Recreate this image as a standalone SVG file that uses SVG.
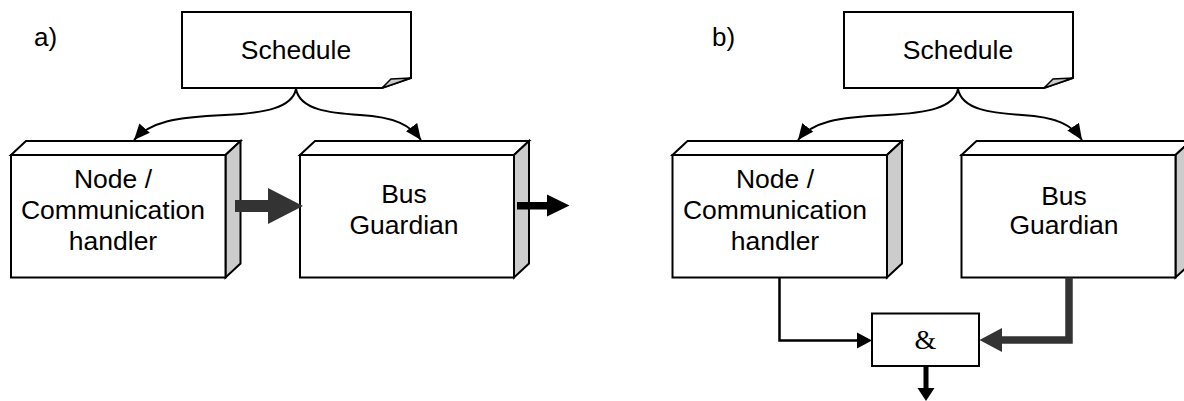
<svg xmlns="http://www.w3.org/2000/svg" width="1184" height="401" viewBox="0 0 1184 401">
  <style>
    .lbl { font-family: "Liberation Sans", Arial, sans-serif; font-size: 26.5px; fill: #000; text-anchor: middle; }
    .tag { font-family: "Liberation Sans", Arial, sans-serif; font-size: 26px; fill: #000; }
    .amp { font-family: "Liberation Serif", "Times New Roman", serif; font-size: 28px; fill: #000; text-anchor: middle; }
    .face { fill: #fff; stroke: #000; stroke-width: 2; stroke-linejoin: miter; }
    .side { fill: #cccccc; stroke: #000; stroke-width: 2; stroke-linejoin: miter; }
    .curl { fill: #cccccc; stroke: #000; stroke-width: 1.5; }
    .flow { fill: none; stroke: #000; stroke-width: 2; }
  </style>
  <defs>
    <marker id="tip" viewBox="0 0 16 14" refX="16" refY="7" markerWidth="16" markerHeight="14" markerUnits="userSpaceOnUse" orient="auto">
      <path d="M0,0 L16,7 L0,14 z" fill="#000"/>
    </marker>
  </defs>

  <!-- panel captions -->
  <text class="tag" x="34" y="46">a)</text>
  <text class="tag" x="712" y="46">b)</text>

  <!-- ===== panel a ===== -->
  <g id="schedule-a">
    <path class="face" d="M182,12 H411 V78 L382,88 H182 Z"/>
    <path class="curl" d="M382,88 L391,79 L411,78 Z"/>
    <text class="lbl" x="296" y="59">Schedule</text>
  </g>

  <g id="node-a">
    <path class="face" d="M11,155 L26,141 H240.5 L225.5,155 Z"/>
    <path class="side" d="M225.5,155 L240.5,141 V263.5 L225.5,277.5 Z"/>
    <rect class="face" x="11" y="155" width="214.5" height="122.5"/>
    <text class="lbl" x="113" y="188">Node /</text>
    <text class="lbl" x="113" y="219">Communication</text>
    <text class="lbl" x="113" y="250">handler</text>
  </g>

  <g id="guardian-a">
    <path class="face" d="M300,155 L315,141 H529 L514,155 Z"/>
    <path class="side" d="M514,155 L529,141 V263.5 L514,277.5 Z"/>
    <rect class="face" x="300" y="155" width="214" height="122.5"/>
    <text class="lbl" x="404" y="203">Bus</text>
    <text class="lbl" x="404" y="234">Guardian</text>
  </g>

  <!-- ===== panel b ===== -->
  <g id="schedule-b">
    <path class="face" d="M844,12 H1073 V78 L1044,88 H844 Z"/>
    <path class="curl" d="M1044,88 L1053,79 L1073,78 Z"/>
    <text class="lbl" x="958" y="59">Schedule</text>
  </g>

  <g id="node-b">
    <path class="face" d="M672.5,155 L687.5,141 H902 L887,155 Z"/>
    <path class="side" d="M887,155 L902,141 V263.5 L887,277.5 Z"/>
    <rect class="face" x="672.5" y="155" width="214.5" height="122.5"/>
    <text class="lbl" x="775" y="188">Node /</text>
    <text class="lbl" x="775" y="219">Communication</text>
    <text class="lbl" x="775" y="250">handler</text>
  </g>

  <g id="guardian-b">
    <path class="face" d="M961.5,155 L976.5,141 H1190.5 L1175.5,155 Z"/>
    <path class="side" d="M1175.5,155 L1190.5,141 V263.5 L1175.5,277.5 Z"/>
    <rect class="face" x="961.5" y="155" width="214" height="122.5"/>
    <text class="lbl" x="1064" y="205">Bus</text>
    <text class="lbl" x="1064" y="234">Guardian</text>
  </g>

  <g id="and-gate">
    <rect class="face" x="872" y="313.5" width="107" height="52.5"/>
    <text class="amp" x="925.5" y="349">&amp;</text>
  </g>

  <!-- ===== connectors ===== -->
  <g id="connectors">
    <!-- schedule distribution, panel a -->
    <path class="flow" d="M296,89 C292,108 265,113 225,115 C175,117 150,122 134,140" marker-end="url(#tip)"/>
    <path class="flow" d="M296,89 C300,110 330,113 360,115 C395,117 410,125 421,140" marker-end="url(#tip)"/>
    <!-- schedule distribution, panel b -->
    <path class="flow" d="M958,89 C954,108 927,113 887,115 C837,117 812,122 798,140" marker-end="url(#tip)"/>
    <path class="flow" d="M958,89 C962,110 992,113 1022,115 C1057,117 1072,125 1082,140" marker-end="url(#tip)"/>

    <!-- node to guardian (series), panel a -->
    <path d="M235,200 H268 V188 L303,206 L268,224 V212 H235 Z" fill="#333333"/>
    <!-- guardian output, panel a -->
    <path d="M517,202 H547 V194.5 L569.5,205.5 L547,216.5 V209.5 H517 Z" fill="#000"/>

    <!-- node to gate, panel b -->
    <path d="M779.5,277.5 V340.5 H858" fill="none" stroke="#000" stroke-width="2.5"/>
    <path d="M857,332.5 L872,340.5 L857,348.5 Z" fill="#000"/>
    <!-- guardian to gate, panel b -->
    <path d="M1069,277.5 V340 H1000" fill="none" stroke="#333333" stroke-width="7.5"/>
    <path d="M1002,328 L979.5,340 L1002,352 Z" fill="#333333"/>
    <!-- gate output -->
    <path d="M926,366 V389" fill="none" stroke="#000" stroke-width="5"/>
    <path d="M917.5,388 L926,401 L934.5,388 Z" fill="#000"/>
  </g>
</svg>
